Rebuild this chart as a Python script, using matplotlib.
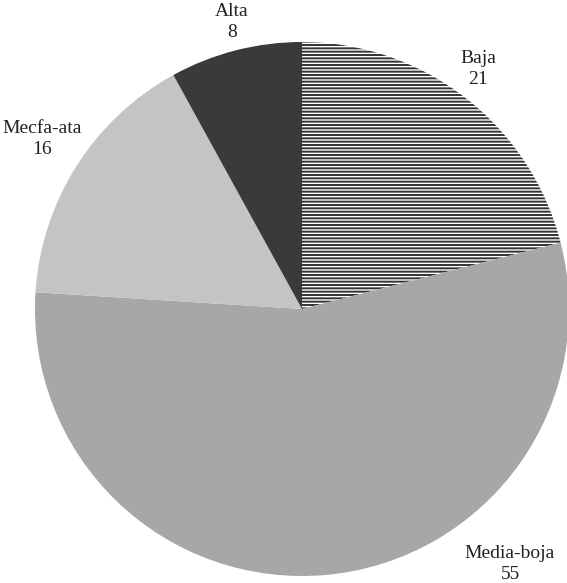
import matplotlib
matplotlib.use("Agg")
import matplotlib.pyplot as plt

categories = ["Baja", "Media-boja", "Mecfa-ata", "Alta"]
values = [21, 55, 16, 8]
colors = ["white", "#a7a7a7", "#c4c4c4", "#3a3a3a"]

# label positions (pixel offsets from pie centre)
label_pos = [(176, 240), (208, -255), (-260, 170), (-70, 287)]

W, H = 567, 583
cx, cy = 302, 309
R = 267

plt.rcParams['hatch.linewidth'] = 1.4
fig = plt.figure(figsize=(W / 100, H / 100), dpi=100)
ax = fig.add_axes([0, 0, 1, 1])
wedges, _ = ax.pie(values, colors=colors, startangle=90, counterclock=False,
                   radius=R, center=(0, 0),
                   wedgeprops=dict(linewidth=0))
wedges[0].set_hatch('-----')
wedges[0].set_edgecolor('#333333')
wedges[0].set_linewidth(0)
ax.set_xlim(-cx, W - cx)
ax.set_ylim(-(H - cy), cy)
ax.set_aspect('equal')
ax.axis('off')

for name, v, (x, y) in zip(categories, values, label_pos):
    ax.text(x, y, f"{name}\n{v}", ha='center', va='center',
            fontfamily='Liberation Serif', fontsize=14, color='#222222',
            linespacing=1.25)

fig.savefig("out.png", dpi=100)
